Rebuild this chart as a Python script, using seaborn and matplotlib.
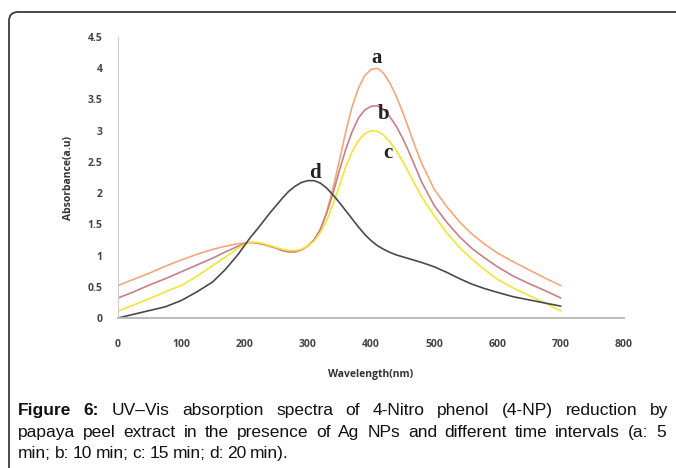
import pandas as pd
import numpy as np
import matplotlib
matplotlib.use("Agg")
import matplotlib.pyplot as plt
import matplotlib.patches as mpatches
from matplotlib.transforms import IdentityTransform
import seaborn as sns

sns.set_style("white")

wavelength = [0, 25, 50, 75, 100, 125, 150, 170, 190, 200, 210, 220, 230, 240, 250, 260,
              270, 280, 290, 300, 310, 320, 330, 340, 350, 360, 370, 380, 390, 400, 410,
              420, 430, 440, 450, 460, 470, 480, 500, 520, 540, 560, 580, 600, 625, 650,
              675, 700]

abs_a = [0.52, 0.62, 0.72, 0.83, 0.93, 1.02, 1.10, 1.15, 1.19, 1.20, 1.21, 1.20, 1.18,
         1.15, 1.12, 1.08, 1.06, 1.06, 1.09, 1.15, 1.25, 1.42, 1.70, 2.08, 2.52, 2.98,
         3.38, 3.68, 3.88, 3.98, 4.00, 3.92, 3.76, 3.55, 3.30, 3.02, 2.74, 2.48, 2.06,
         1.78, 1.54, 1.34, 1.18, 1.04, 0.90, 0.77, 0.64, 0.52]
abs_b = [0.32, 0.42, 0.53, 0.63, 0.74, 0.85, 0.96, 1.06, 1.15, 1.19, 1.21, 1.20, 1.18,
         1.15, 1.12, 1.08, 1.06, 1.06, 1.09, 1.15, 1.25, 1.42, 1.68, 2.00, 2.36, 2.70,
         2.98, 3.20, 3.33, 3.39, 3.40, 3.34, 3.22, 3.07, 2.88, 2.66, 2.42, 2.18, 1.80,
         1.53, 1.30, 1.11, 0.96, 0.82, 0.67, 0.55, 0.44, 0.32]
abs_c = [0.11, 0.21, 0.31, 0.42, 0.52, 0.67, 0.84, 0.98, 1.12, 1.18, 1.21, 1.21, 1.19,
         1.16, 1.13, 1.10, 1.08, 1.08, 1.10, 1.15, 1.23, 1.37, 1.56, 1.82, 2.12, 2.42,
         2.66, 2.84, 2.95, 3.00, 2.99, 2.93, 2.82, 2.68, 2.51, 2.32, 2.13, 1.94, 1.64,
         1.36, 1.13, 0.94, 0.77, 0.62, 0.48, 0.36, 0.24, 0.11]
abs_d = [0.00, 0.06, 0.12, 0.18, 0.28, 0.42, 0.58, 0.78, 1.02, 1.16, 1.30, 1.42, 1.55,
         1.68, 1.80, 1.92, 2.03, 2.11, 2.17, 2.20, 2.20, 2.16, 2.08, 1.97, 1.85, 1.72,
         1.59, 1.46, 1.34, 1.24, 1.16, 1.10, 1.05, 1.01, 0.98, 0.95, 0.92, 0.89, 0.82,
         0.73, 0.63, 0.54, 0.47, 0.41, 0.34, 0.29, 0.24, 0.19]

curve_names = ["a", "b", "c", "d"]
label_pos = {"a": (409, 4.17), "b": (420, 3.27), "c": (426, 2.64), "d": (311, 2.32)}
colors = ["#F5A77A", "#C68088", "#F3E437", "#4A4A4A"]

df = pd.DataFrame({
    "Wavelength": wavelength * 4,
    "Absorbance": abs_a + abs_b + abs_c + abs_d,
    "curve": sum([[n] * len(wavelength) for n in curve_names], []),
})

W, H = 676, 468
fig = plt.figure(figsize=(W / 100, H / 100), dpi=100)
ax = fig.add_axes([118 / W, 1 - 318 / H, (624 - 118) / W, (318 - 37) / H])

sns.lineplot(data=df, x="Wavelength", y="Absorbance", hue="curve", palette=colors,
             linewidth=1.2, legend=False, ax=ax, sort=False)

for name in curve_names:
    x, y = label_pos[name]
    ax.text(x, y, name, fontsize=15, fontweight="bold", family="Liberation Serif",
            ha="center", va="center", color="#222222")

ax.set_xlim(0, 800)
ax.set_ylim(0, 4.5)
ax.set_xticks(range(0, 801, 100))
ax.set_yticks(np.arange(0, 4.51, 0.5))
ax.set_yticklabels(["0", "0.5", "1", "1.5", "2", "2.5", "3", "3.5", "4", "4.5"])
ax.tick_params(axis="both", length=0, labelsize=7.5, colors="#444444")
ax.tick_params(axis="x", pad=15)
ax.tick_params(axis="y", pad=11)
for lab in ax.get_xticklabels() + ax.get_yticklabels():
    lab.set_fontweight("bold")
    lab.set_family("Open Sans")

ax.set_xlabel("Wavelength(nm)", fontsize=7.5, fontweight="bold", family="Open Sans",
              color="#333333", labelpad=14)
ax.set_ylabel("Absorbance(a.u)", fontsize=7.5, fontweight="bold", family="Open Sans",
              color="#333333", labelpad=10)

sns.despine(ax=ax)
ax.spines["left"].set_color("#CCCCCC")
ax.spines["bottom"].set_color("#B5B5B5")
ax.spines["bottom"].set_linewidth(1.3)

frame = mpatches.FancyBboxPatch((9, -30), 700, H - 12 + 30, boxstyle="round,pad=0,rounding_size=9",
                                transform=IdentityTransform(), fill=False,
                                edgecolor="#3A3A3A", linewidth=1.3, clip_on=False)
fig.add_artist(frame)

# caption, justified line by line
renderer = fig.canvas.get_renderer()


def caption_line(words, base_px, x0, x1, justify=True):
    texts = []
    for w, bold in words:
        t = fig.text(0, 1 - base_px / H, w, fontsize=12.5, family="Liberation Sans",
                     fontweight="bold" if bold else "normal", va="baseline", ha="left",
                     color="#111111")
        texts.append(t)
    widths = [t.get_window_extent(renderer).width for t in texts]
    space = 3.6
    if justify and len(texts) > 1:
        space = max((x1 - x0 - sum(widths)) / (len(texts) - 1), 2.0)
    x = x0
    for t, wd in zip(texts, widths):
        t.set_x(x / W)
        x += wd + space


line1 = [("Figure", True), ("6:", True)] + [(w, False) for w in
         "UV–Vis absorption spectra of 4-Nitro phenol (4-NP) reduction by".split()]
line2 = [(w, False) for w in
         "papaya peel extract in the presence of Ag NPs and different time intervals (a: 5".split()]
line3 = [(w, False) for w in "min; b: 10 min; c: 15 min; d: 20 min).".split()]

caption_line(line1, 415, 18, 668)
caption_line(line2, 437, 18, 666)
caption_line(line3, 458, 18, 668, justify=False)

fig.savefig("out.png", dpi=100, facecolor="white")
